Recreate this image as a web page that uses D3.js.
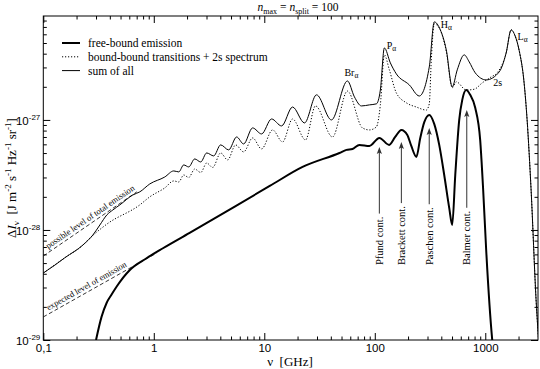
<!DOCTYPE html>
<html>
<head>
<meta charset="utf-8">
<script src="https://cdn.jsdelivr.net/npm/d3@7"></script>
<style>
  body { margin: 0; background: #fff; }
  svg { display: block; font-family: "Liberation Serif", "Times New Roman", serif; }
</style>
</head>
<body>
<svg id="chart" width="540" height="369"></svg>
<script>
// values: [nu in GHz, Delta I_nu]
const freeBound = [
  [0.300, 1.0e-29], [0.337, 1.63e-29], [0.374, 2.17e-29], [0.415, 2.59e-29], [0.46, 3.05e-29],
  [0.607, 4.33e-29], [0.859, 5.53e-29], [1.21, 6.82e-29], [2.11, 9.4e-29], [11.2, 2.51e-28],
  [22.2, 3.74e-28], [47.9, 5.01e-28], [55.4, 5.34e-28], [62.8, 5.45e-28], [72.6, 5.93e-28],
  [89.4, 5.8e-28], [110, 6.86e-28], [135, 5.93e-28], [153, 7.0e-28], [174, 8.11e-28],
  [197, 7.3e-28], [214, 5.8e-28], [238, 4.61e-28], [258, 6.86e-28], [281, 9.59e-28],
  [311, 1.11e-27], [345, 9.2e-28], [383, 5.93e-28], [425, 3.16e-28], [472, 1.58e-28],
  [502, 1.11e-28], [535, 3.16e-28], [581, 1.0e-27], [619, 1.52e-27], [672, 1.87e-27],
  [730, 1.69e-27], [811, 1.29e-27], [899, 6.58e-28], [957, 2.31e-28], [1019, 6.58e-29],
  [1154, 1.02e-29], [1200, 7e-30]
];

const boundBound = [
  [0.1, 4.06e-29], [0.157, 5.6e-29], [0.2284, 7.3e-29], [0.2533, 8.11e-29], [0.376, 1.13e-28],
  [0.747, 1.69e-28], [0.92, 2.0e-28], [1.257, 2.41e-28], [1.516, 2.79e-28], [1.682, 2.73e-28],
  [1.866, 3.16e-28], [2.071, 3.0e-28], [2.346, 3.58e-28], [2.659, 3.33e-28], [3.012, 4.06e-28],
  [3.412, 3.70e-28], [4.029, 5.01e-28], [4.661, 4.33e-28], [5.504, 5.93e-28], [6.5, 5.12e-28],
  [7.84, 6.86e-28], [9.45, 5.45e-28], [11.89, 8.11e-28], [14.63, 6.31e-28], [18.02, 1.02e-27],
  [23.6, 6.58e-28], [29.07, 1.34e-27], [41.4, 7.0e-28], [56.56, 1.83e-27], [77.3, 8.46e-28],
  [89.4, 8.11e-28], [103.4, 8.64e-28], [112.3, 1.37e-27], [122.1, 3.90e-27], [135.5, 2.85e-27],
  [156.7, 1.76e-27], [193, 1.43e-27], [237.6, 1.31e-27], [292.5, 1.23e-27], [311.3, 1.40e-27],
  [324.7, 3.51e-27], [345.5, 7.46e-27], [391.4, 6.58e-27], [443.6, 4.2e-27], [502.3, 1.96e-27],
  [546, 2.22e-27], [672, 1.87e-27], [793.6, 1.9e-27], [937.6, 2.17e-27], [1130, 2.46e-27],
  [1281, 2.68e-27], [1545, 4.06e-27], [1714, 6.58e-27], [1862, 5.8e-27], [2024, 4.3e-27],
  [2246, 2.17e-27], [2391, 1.0e-27], [2598, 2.31e-28], [2883, 2.31e-29], [3133, 6.58e-30]
];

const sumOfAll = [
  [0.1, 4.06e-29], [0.1275, 4.8e-29], [0.157, 5.6e-29], [0.2284, 7.3e-29], [0.281, 9.0e-29],
  [0.325, 1.11e-28], [0.376, 1.37e-28], [0.426, 1.52e-28], [0.493, 1.69e-28], [0.646, 2.08e-28],
  [0.747, 2.22e-28], [0.92, 2.62e-28], [1.257, 3.03e-28], [1.516, 3.44e-28], [1.682, 3.37e-28],
  [1.866, 3.90e-28], [2.071, 3.74e-28], [2.346, 4.42e-28], [2.659, 4.15e-28], [3.012, 5.01e-28],
  [3.483, 4.71e-28], [4.029, 5.93e-28], [4.759, 5.34e-28], [5.62, 7.0e-28], [6.5, 6.05e-28],
  [7.84, 8.46e-28], [9.45, 7.46e-28], [11.64, 1.02e-27], [14.33, 8.82e-28], [18.02, 1.31e-27],
  [23.12, 9.39e-28], [29.68, 1.69e-27], [40.55, 1.0e-27], [56.56, 2.26e-27], [65.4, 1.62e-27],
  [75.7, 1.34e-27], [89.4, 1.37e-27], [103.4, 1.40e-27], [112.3, 1.87e-27], [122.1, 4.51e-27],
  [138.3, 3.30e-27], [156.7, 2.62e-27], [205.4, 2.08e-27], [252.8, 1.65e-27], [311.3, 3.03e-27],
  [345.5, 7.78e-27], [391.4, 6.6e-27], [443.6, 4.33e-27], [502.3, 2.0e-27], [557.5, 2.85e-27],
  [644.9, 3.90e-27], [715.3, 3.37e-27], [810.6, 2.68e-27], [1019, 2.31e-27], [1336, 2.73e-27],
  [1545, 4.06e-27], [1714, 6.58e-27], [1862, 5.8e-27], [2024, 4.3e-27], [2246, 2.17e-27],
  [2391, 1.0e-27], [2598, 2.31e-28], [2883, 2.31e-29], [3133, 6.58e-30]
];

const possibleLevel = [[0.1, 5.8e-29], [0.702, 2.22e-28]];
const expectedLevel = [[0.1, 1.62e-29], [1.064, 6.18e-29]];

const continua = [
  { name: "Pfund cont.", nu: 110, tip: 5.68e-28 },
  { name: "Brackett cont.", nu: 174, tip: 6.31e-28 },
  { name: "Paschen cont.", nu: 311, tip: 8.46e-28 },
  { name: "Balmer cont.", nu: 680, tip: 1.23e-27 }
];

const lineLabels = [
  { text: "Br", sub: "\u03b1", nu: 53.1, val: 2.5e-27 },
  { text: "P", sub: "\u03b1", nu: 128, val: 4.4e-27 },
  { text: "H", sub: "\u03b1", nu: 395, val: 6.9e-27 },
  { text: "L", sub: "\u03b1", nu: 1960, val: 5.3e-27 },
  { text: "2s", sub: "", nu: 1179, val: 2.04e-27 }
];

const xMajor = [0.1, 1, 10, 100, 1000];
const xTickLabels = ["0,1", "1", "10", "100", "1000"];
const yMajor = [1e-29, 1e-28, 1e-27];
const yExponents = ["-29", "-28", "-27"];

const legendItems = [
  { label: "free-bound emission", width: 2, dash: null },
  { label: "bound-bound transitions + 2s spectrum", width: 1, dash: "1.2,1.8" },
  { label: "sum of all", width: 1, dash: null }
];

const W = 540, H = 369;
const margin = { top: 16, right: 2, bottom: 29, left: 43.3 };

const svg = d3.select("#chart");

const x = d3.scaleLog().domain([0.1, 3000]).range([margin.left, W - margin.right]);
const y = d3.scaleLog().domain([1e-29, 8.8e-27]).range([H - margin.bottom, margin.top]);

const xMinor = [];
[0.1, 1, 10, 100, 1000].forEach(d => { for (let k = 2; k <= 9; k++) if (k * d < 3000) xMinor.push(k * d); });
const yMinor = [];
[1e-29, 1e-28, 1e-27].forEach(d => { for (let k = 2; k <= 9; k++) if (k * d < 8.8e-27) yMinor.push(k * d); });

svg.append("defs").append("clipPath").attr("id", "plot")
  .append("rect")
  .attr("x", margin.left).attr("y", margin.top)
  .attr("width", W - margin.right - margin.left)
  .attr("height", H - margin.bottom - margin.top);

// axes (ticks inside on all four sides)
const x0 = H - margin.bottom, x1 = margin.top;
const yL = margin.left, yR = W - margin.right;

function styleAxis(g) {
  g.select(".domain").remove();
  g.selectAll("line").attr("stroke", "#000").attr("stroke-width", 1);
  g.selectAll("text").attr("font-family", null).attr("fill", "#000");
}

svg.append("g").attr("transform", `translate(0,${x0})`)
  .call(d3.axisBottom(x).tickValues(xMajor).tickSize(-7).tickPadding(4)
    .tickFormat((d, i) => xTickLabels[i]))
  .call(styleAxis)
  .selectAll("text").attr("font-size", 11.5);
svg.append("g").attr("transform", `translate(0,${x0})`)
  .call(d3.axisBottom(x).tickValues(xMinor).tickSize(-3.5).tickFormat(""))
  .call(styleAxis);
svg.append("g").attr("transform", `translate(0,${x1})`)
  .call(d3.axisTop(x).tickValues(xMajor).tickSize(-7).tickFormat(""))
  .call(styleAxis);
svg.append("g").attr("transform", `translate(0,${x1})`)
  .call(d3.axisTop(x).tickValues(xMinor).tickSize(-3.5).tickFormat(""))
  .call(styleAxis);

const leftAxis = svg.append("g").attr("transform", `translate(${yL},0)`)
  .call(d3.axisLeft(y).tickValues(yMajor).tickSize(-7).tickPadding(3).tickFormat(""))
  .call(styleAxis);
leftAxis.selectAll(".tick text").each(function (d, i) {
  const t = d3.select(this).attr("font-size", 11.5).attr("dy", "0.36em");
  t.append("tspan").text("10");
  t.append("tspan").attr("font-size", 8).attr("dy", "-0.55em").text(yExponents[i]);
});
svg.append("g").attr("transform", `translate(${yL},0)`)
  .call(d3.axisLeft(y).tickValues(yMinor).tickSize(-3.5).tickFormat(""))
  .call(styleAxis);
svg.append("g").attr("transform", `translate(${yR},0)`)
  .call(d3.axisRight(y).tickValues(yMajor).tickSize(-7).tickFormat(""))
  .call(styleAxis);
svg.append("g").attr("transform", `translate(${yR},0)`)
  .call(d3.axisRight(y).tickValues(yMinor).tickSize(-3.5).tickFormat(""))
  .call(styleAxis);

svg.append("rect")
  .attr("x", yL).attr("y", x1)
  .attr("width", yR - yL).attr("height", x0 - x1)
  .attr("fill", "none").attr("stroke", "#000").attr("stroke-width", 1);

// curves
const line = d3.line().x(d => x(d[0])).y(d => y(d[1])).curve(d3.curveMonotoneX);
const curves = svg.append("g").attr("clip-path", "url(#plot)");

curves.append("path").datum(boundBound).attr("d", line)
  .attr("fill", "none").attr("stroke", "#000").attr("stroke-width", 1)
  .attr("stroke-dasharray", "1.2,1.8");
curves.append("path").datum(sumOfAll).attr("d", line)
  .attr("fill", "none").attr("stroke", "#000").attr("stroke-width", 1);
curves.append("path").datum(freeBound).attr("d", line)
  .attr("fill", "none").attr("stroke", "#000").attr("stroke-width", 2);

// dashed level lines with their slanted captions
const straight = d3.line().x(d => x(d[0])).y(d => y(d[1]));
[[possibleLevel, "possible level of total emission"], [expectedLevel, "expected level of emission"]]
  .forEach(([pts, caption]) => {
    curves.append("path").datum(pts).attr("d", straight)
      .attr("fill", "none").attr("stroke", "#000").attr("stroke-width", 0.8)
      .attr("stroke-dasharray", "4,2.5");
    const ax = x(pts[0][0]), ay = y(pts[0][1]), bx = x(pts[1][0]), by = y(pts[1][1]);
    const ang = Math.atan2(by - ay, bx - ax) * 180 / Math.PI;
    const t = (50 - ax) / (bx - ax);
    svg.append("text")
      .attr("transform", `translate(50,${ay + t * (by - ay)}) rotate(${ang})`)
      .attr("y", -3)
      .attr("font-size", 8.5)
      .text(caption);
  });

// continuum arrows
continua.forEach(c => {
  const cx = x(c.nu), tipY = y(c.tip), baseY = 265;
  const label = svg.append("text")
    .attr("transform", `translate(${cx},${baseY}) rotate(-90)`)
    .attr("dy", "0.35em")
    .attr("font-size", 10.5)
    .text(c.name);
  const tail = baseY - label.node().getComputedTextLength() - 3;
  svg.append("line")
    .attr("x1", cx).attr("x2", cx).attr("y1", tail).attr("y2", tipY + 3)
    .attr("stroke", "#333").attr("stroke-width", 1);
  svg.append("path")
    .attr("d", `M${cx},${tipY} L${cx - 2.6},${tipY + 7} L${cx},${tipY + 5.5} L${cx + 2.6},${tipY + 7} Z`)
    .attr("fill", "#333");
});

// line identifications
lineLabels.forEach(l => {
  const t = svg.append("text")
    .attr("x", x(l.nu)).attr("y", y(l.val))
    .attr("font-size", 10);
  t.append("tspan").text(l.text);
  if (l.sub) t.append("tspan").attr("font-size", 7.5).attr("dy", 2).text(l.sub);
});

// legend
const legend = svg.append("g");
legendItems.forEach((d, i) => {
  const ly = 43 + i * 13.8;
  legend.append("line")
    .attr("x1", 62).attr("x2", 80).attr("y1", ly).attr("y2", ly)
    .attr("stroke", "#000").attr("stroke-width", d.width)
    .attr("stroke-dasharray", d.dash);
  legend.append("text")
    .attr("x", 88).attr("y", ly).attr("dy", "0.35em")
    .attr("font-size", 11.5)
    .text(d.label);
});

// rich text helper: pieces of [text, "sub"|"sup"|null, italic]
function richText(sel, pieces, small) {
  let shift = 0;
  pieces.forEach(([s, kind, italic]) => {
    const target = kind === "sub" ? 3 : kind === "sup" ? -5 : 0;
    const ts = sel.append("tspan").attr("dy", target - shift).text(s);
    if (kind) ts.attr("font-size", small);
    if (italic) ts.attr("font-style", "italic");
    shift = target;
  });
}

// title
const title = svg.append("text")
  .attr("x", 298).attr("y", 11).attr("text-anchor", "middle")
  .attr("font-size", 11.5);
richText(title, [["n", null, true], ["max", "sub"], [" = ", null], ["n", null, true], ["split", "sub"], [" = 100", null]], 8);

// axis titles
svg.append("text")
  .attr("x", 290).attr("y", 366).attr("text-anchor", "middle")
  .attr("font-size", 13)
  .attr("xml:space", "preserve")
  .text("\u03bd  [GHz]");

const ylab = svg.append("text")
  .attr("transform", "translate(16,178) rotate(-90)")
  .attr("text-anchor", "middle")
  .attr("font-size", 13)
  .attr("xml:space", "preserve");
richText(ylab, [["\u0394", null], ["I", null, true], ["\u03bd", "sub"], ["  [J m", null], ["-2", "sup"],
  [" s", null], ["-1", "sup"], [" Hz", null], ["-1", "sup"], [" sr", null], ["-1", "sup"], ["]", null]], 9);
</script>
</body>
</html>
